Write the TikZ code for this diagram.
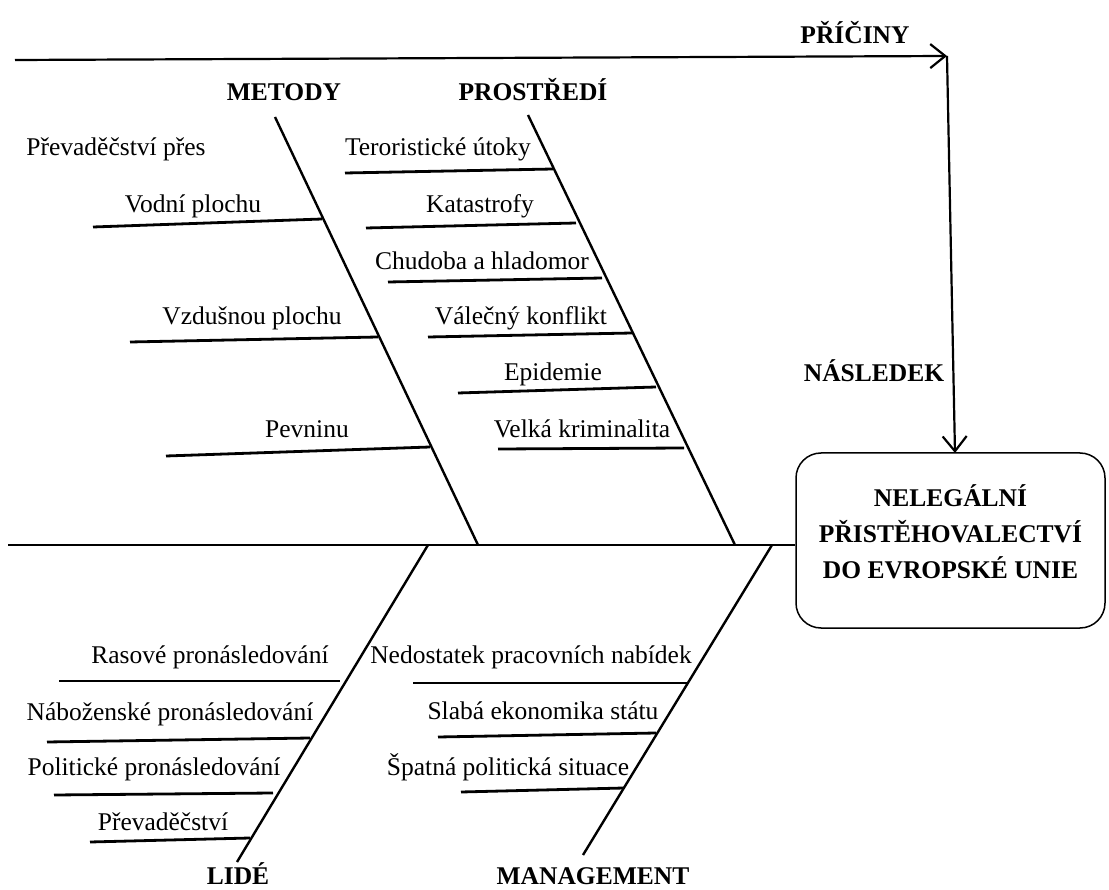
\documentclass[tikz,border=0pt]{standalone}
\usepackage{fontspec}
\setmainfont{Liberation Serif}
\newfontfamily\tnr{Liberation Serif}
\usetikzlibrary{arrows.meta,calc}
\begin{document}
\begin{tikzpicture}[x=1pt,y=-1pt,
 bone/.style={line width=2.4pt},
 twig/.style={line width=2.8pt},
 lbl/.style={anchor=base,inner sep=0pt,font=\tnr\fontsize{25.5}{30}\selectfont},
 head/.style={anchor=base,inner sep=0pt,font=\tnr\fontsize{25.5}{30}\selectfont\bfseries},
 arr/.style={line width=2.2pt,-{Straight Barb[length=15pt,width=24pt,line width=2.2pt]}},
 effbox/.style={draw,line width=1.5pt,rounded corners=25pt,minimum width=309pt,minimum height=175pt,align=center,inner sep=0pt,font=\tnr\fontsize{25.5}{36}\selectfont\bfseries}
]
\useasboundingbox (0,0) rectangle (1109,890);

% effect box
\node[effbox] (effect) at (950.5,540.5) {NELEGÁLNÍ\\PŘISTĚHOVALECTVÍ\\DO EVROPSKÉ UNIE\rule[-18pt]{0pt}{0pt}};

% causes arrow and effect arrow
\coordinate (cstart) at (15,60);
\coordinate (corner) at (947,56);
\coordinate (effin) at (955,453);
\draw[arr] (cstart) -- (corner);
\draw[arr] (corner) -- (effin);
\node[head] (priciny) at (855,44) {PŘÍČINY};
\node[head] (nasledek) at (874,382) {NÁSLEDEK};

% spine
\coordinate (spstart) at (8,545);
\draw[bone] (spstart) -- (spstart -| effect.west);

% bones
\coordinate (mT) at (275,117); \coordinate (mB) at (478,545);
\coordinate (pT) at (528,115); \coordinate (pB) at (735,545);
\coordinate (lT) at (428,545); \coordinate (lB) at (237,862);
\coordinate (gT) at (772,545); \coordinate (gB) at (583,855);
\draw[bone] (mT) -- (mB);
\draw[bone] (pT) -- (pB);
\draw[bone] (lT) -- (lB);
\draw[bone] (gT) -- (gB);

\node[head] (metody) at (284,101) {METODY};
\node[head] (prostredi) at (533,101) {PROSTŘEDÍ};
\node[head] (lide) at (238,884) {LIDÉ};
\node[head] (management) at (593,884) {MANAGEMENT};

% METODY
\node[lbl] (m0) at (116,156) {Převaděčství přes};
\coordinate (m1a) at (93,227); \coordinate (m1b) at (322,219);
\draw[twig] (m1a) -- (m1b);
\node[lbl] (m1) at (193,213) {Vodní plochu};
\coordinate (m2a) at (130,342); \coordinate (m2b) at (378,337);
\draw[twig] (m2a) -- (m2b);
\node[lbl] (m2) at (252,325) {Vzdušnou plochu};
\coordinate (m3a) at (166,456); \coordinate (m3b) at (430,447);
\draw[twig] (m3a) -- (m3b);
\node[lbl] (m3) at (307,438) {Pevninu};

% PROSTREDI
\coordinate (p1a) at (345,173); \coordinate (p1b) at (553,169);
\draw[twig] (p1a) -- (p1b);
\node[lbl] (p1) at (438,156) {Teroristické útoky};
\coordinate (p2a) at (366,228); \coordinate (p2b) at (576,223);
\draw[twig] (p2a) -- (p2b);
\node[lbl] (p2) at (480,213) {Katastrofy};
\coordinate (p3a) at (388,282); \coordinate (p3b) at (602,278);
\draw[twig] (p3a) -- (p3b);
\node[lbl] (p3) at (482,270) {Chudoba a hladomor};
\coordinate (p4a) at (428,337); \coordinate (p4b) at (632,333);
\draw[twig] (p4a) -- (p4b);
\node[lbl] (p4) at (521,325) {Válečný konflikt};
\coordinate (p5a) at (458,393); \coordinate (p5b) at (656,387);
\draw[twig] (p5a) -- (p5b);
\node[lbl] (p5) at (553,381) {Epidemie};
\coordinate (p6a) at (498,449); \coordinate (p6b) at (684,448);
\draw[twig] (p6a) -- (p6b);
\node[lbl] (p6) at (582,438) {Velká kriminalita};

% LIDE
\coordinate (l1a) at (59,681); \coordinate (l1b) at (340,681);
\draw[twig] (l1a) -- (l1b);
\node[lbl] (l1) at (210,663) {Rasové pronásledování};
\coordinate (l2a) at (47,742); \coordinate (l2b) at (310,738);
\draw[twig] (l2a) -- (l2b);
\node[lbl] (l2) at (170,720) {Náboženské pronásledování};
\coordinate (l3a) at (54,795); \coordinate (l3b) at (273,793);
\draw[twig] (l3a) -- (l3b);
\node[lbl] (l3) at (154,775) {Politické pronásledování};
\coordinate (l4a) at (90,842); \coordinate (l4b) at (250,838);
\draw[twig] (l4a) -- (l4b);
\node[lbl] (l4) at (163,830) {Převaděčství};

% MANAGEMENT
\coordinate (g1a) at (413,683); \coordinate (g1b) at (689,683);
\draw[twig] (g1a) -- (g1b);
\node[lbl] (g1) at (531,663) {Nedostatek pracovních nabídek};
\coordinate (g2a) at (438,737); \coordinate (g2b) at (656,733);
\draw[twig] (g2a) -- (g2b);
\node[lbl] (g2) at (543,719) {Slabá ekonomika státu};
\coordinate (g3a) at (461,792); \coordinate (g3b) at (624,788);
\draw[twig] (g3a) -- (g3b);
\node[lbl] (g3) at (508,775) {Špatná politická situace};
\end{tikzpicture}
\end{document}
